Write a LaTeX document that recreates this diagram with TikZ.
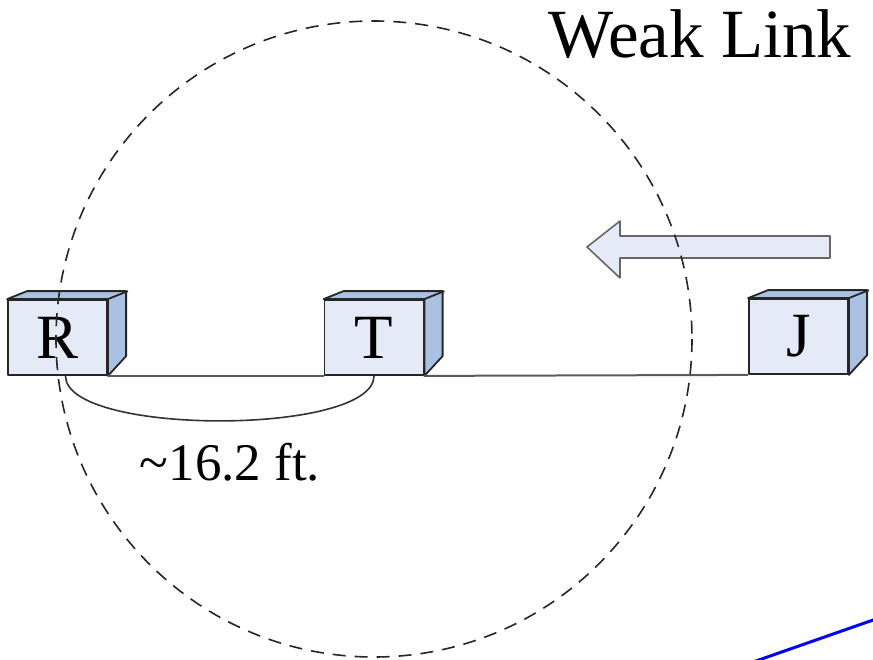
\documentclass[tikz,border=0pt]{standalone}
\usepackage{fontspec}
\setmainfont{Liberation Serif}
\usetikzlibrary{positioning}
\definecolor{faceblue}{RGB}{228,235,247}
\definecolor{sideblue}{RGB}{170,193,228}
\definecolor{linegray}{RGB}{90,90,90}
\begin{document}
\begin{tikzpicture}[x=1pt,y=-1pt,line join=round,
    boxface/.style={draw=black!85,line width=1.8pt,fill=faceblue,minimum width=99pt,minimum height=75pt,inner sep=0pt,font=\fontsize{63}{63}\selectfont},
    boxside/.style={draw=black!85,line width=1.8pt,fill=sideblue}]
        \useasboundingbox (0,0) rectangle (873,659);
        % nodes
        \node[boxface] (R) at (57.5,337.5) {R};
        \node[boxface] (T) at (374,337.5) {T};
        \node[boxface] (J) at (798.5,336.5) {J};
        \foreach \b in {R,T,J} {
            \draw[boxside] (\b.north west) -- ++(20,-8) -- ++(99,0) -- ++(0,65) -- (\b.south east) -- (\b.north east) -- cycle;
            \draw[boxside,fill=none] (\b.north east) -- ++(20,-8);
        }
        % links
        \draw[linegray,line width=2pt] (R.south east) -- (T.south west);
        \draw[linegray,line width=2pt] (T.south east) -- (J.south west);
        \draw[black!80,line width=1.6pt] ([xshift=8pt]R.south) .. controls +(0,60) and +(0,60) .. (T.south);
        \node[font=\fontsize{53}{53}\selectfont] (dist) at (230,462) {\textasciitilde16.2 ft.};
        \node[font=\fontsize{69}{69}\selectfont,anchor=base west] (weak) at (545,57) {Weak Link};
        % interference arrow
        \draw[draw=black!60,line width=1.6pt,fill=faceblue] (830,236) -- (620,236) -- (620,221) -- (587,247) -- (620,278) -- (620,258) -- (830,258) -- cycle;
        % range
        \draw[black!85,line width=1.6pt,dash pattern=on 13pt off 9pt] (374,339) circle[radius=318];
        \draw[blue,line width=3pt] (753,662) -- (876,619);
    \end{tikzpicture}
\end{document}
